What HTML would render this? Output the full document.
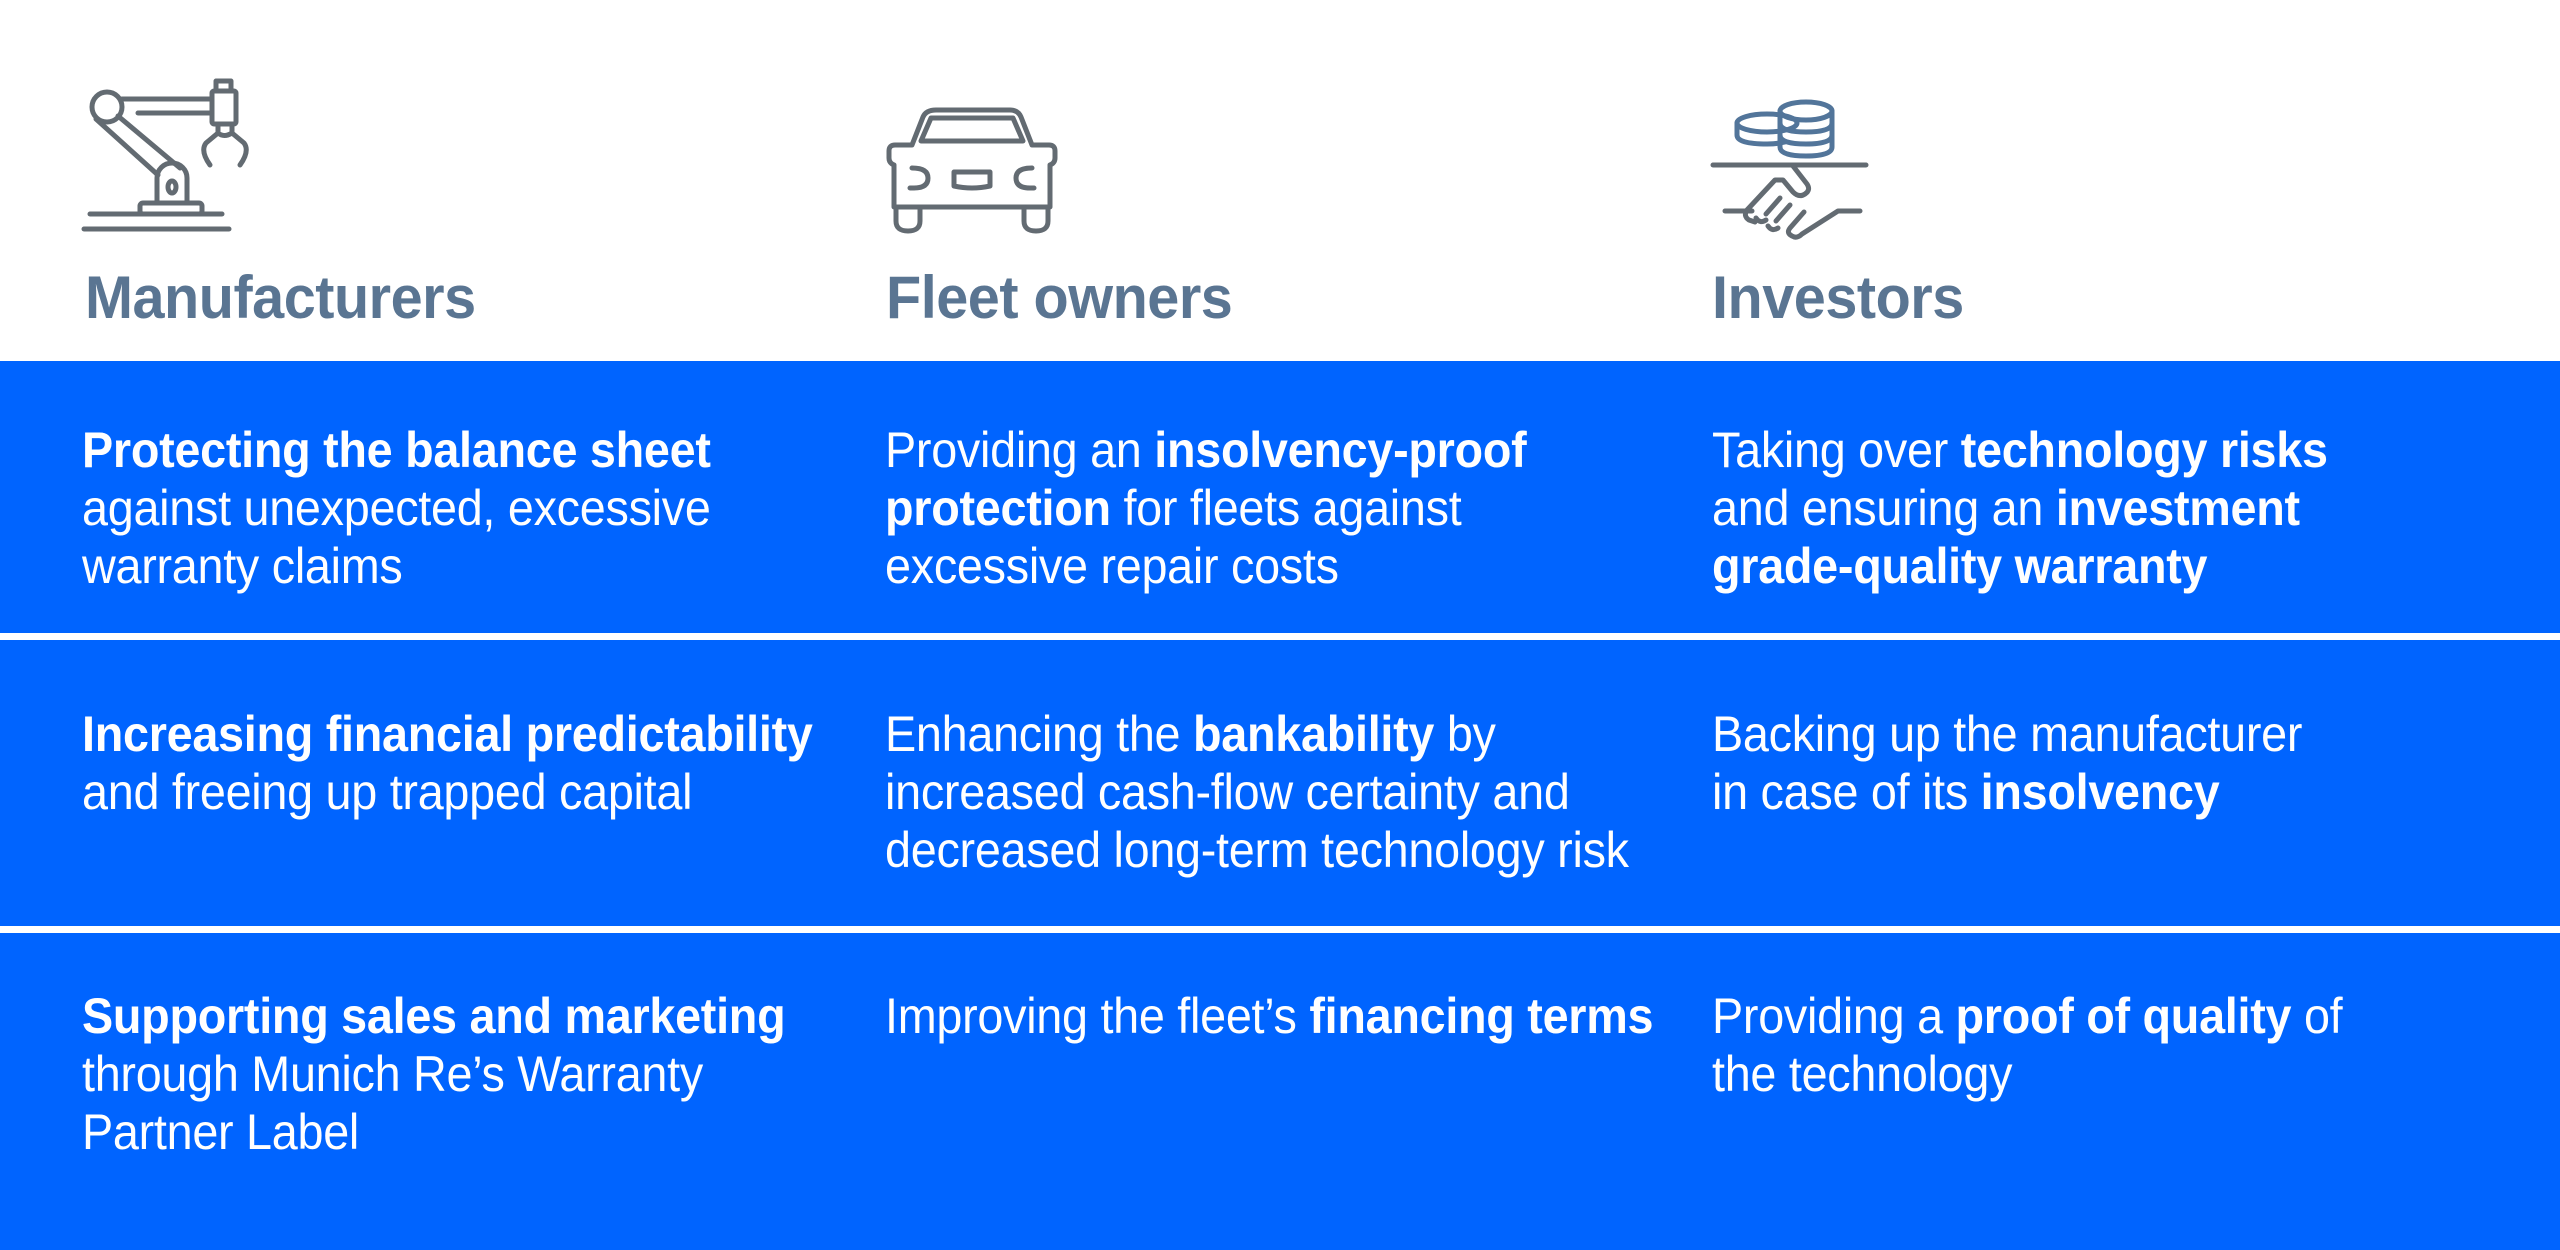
<!DOCTYPE html>
<html><head><meta charset="utf-8"><style>
html,body{margin:0;padding:0}
body{width:2560px;height:1250px;position:relative;overflow:hidden;background:#fff;font-family:"Liberation Sans",sans-serif}
.band{position:absolute;left:0;width:2560px;background:#0064ff}
.h{position:absolute;top:268px;font-size:60px;line-height:60px;color:#5a7592;font-weight:bold;letter-spacing:-0.5px;transform:scaleX(0.96);transform-origin:0 0;white-space:nowrap}
.t{position:absolute;font-size:50px;line-height:58px;color:#fff;letter-spacing:-0.3px;white-space:nowrap;transform:scaleX(0.935);transform-origin:0 0}
.t b{font-weight:bold}
svg{position:absolute;left:0;top:0}
</style></head><body>
<div class="band" style="top:361px;height:272px"></div>
<div class="band" style="top:640px;height:286px"></div>
<div class="band" style="top:933px;height:317px"></div>

<svg width="2560" height="260" fill="none" stroke-linecap="round" stroke-linejoin="round">
<g stroke="#636b72" stroke-width="5">
 <line x1="90" y1="214" x2="222" y2="214"/>
 <line x1="84" y1="229" x2="229" y2="229"/>
 <rect x="140" y="203" width="62" height="11" rx="3"/>
 <path d="M157 203 V178 a15 15 0 0 1 30 0 V203"/>
 <ellipse cx="172" cy="187" rx="4" ry="6"/>
 <circle cx="107" cy="107" r="15"/>
 <line x1="96" y1="119" x2="158" y2="175"/>
 <line x1="118" y1="116" x2="180" y2="168"/>
 <line x1="122" y1="99" x2="212" y2="99"/>
 <line x1="138" y1="113" x2="212" y2="113"/>
 <rect x="212" y="91" width="24" height="33" rx="2"/>
 <path d="M216 91 V81 H231 V91"/>
 <path d="M218 126 v7 l-12 10 q-6 8 4 22"/>
 <path d="M232 126 v7 l12 10 q6 8 -4 22"/>
 <path d="M218 133 q6 5 14 0"/>
</g>
<g stroke="#636b72" stroke-width="5">
 <path d="M936 110 H1010 Q1018 110 1021 117 L1032 145 H1049 Q1055 145 1055 151 V158 Q1055 163 1050 165 V207 H894 V165 Q889 163 889 158 V151 Q889 145 895 145 H912 L923 117 Q926 110 936 110 Z"/>
 <path d="M921 141 L931 118 H1013 L1023 141 Z"/>
 <path d="M896 207 v14 q0 10 12 10 q12 0 12 -10 v-14"/>
 <path d="M1024 207 v14 q0 10 12 10 q12 0 12 -10 v-14"/>
 <line x1="920" y1="207" x2="1024" y2="207"/>
 <path d="M912 168 q16 0 16 10 q0 10 -14 10 h-4"/>
 <path d="M1032 168 q-16 0 -16 10 q0 10 14 10 h4"/>
 <path d="M954 172 h36 v14 q-18 4 -36 0 z"/>
</g>
<g stroke="#52759a" stroke-width="5">
 <ellipse cx="1767" cy="123" rx="30" ry="9"/>
 <path d="M1737 123 v12 q0 9 30 9 q10 0 18 -2"/>
 <ellipse cx="1806" cy="111" rx="26" ry="9"/>
 <path d="M1780 111 v36 q0 9 26 9 q26 0 26 -9 v-36"/>
 <path d="M1780 123 q0 9 26 9 q26 0 26 -9"/>
 <path d="M1780 135 q0 9 26 9 q26 0 26 -9"/>
</g>
<g stroke="#636b72" stroke-width="5">
 <line x1="1713" y1="165" x2="1866" y2="165"/>
 <path d="M1793 166 l14 18 q4 6 -2 10 q-6 4 -12 -2 l-10 -12 h-8 l-28 30 q-4 6 2 10 l6 2"/>
 <line x1="1725" y1="211" x2="1752" y2="211"/>
 <path d="M1780 198 l-14 16"/>
 <path d="M1790 205 l-14 16"/>
 <path d="M1804 212 l-14 16 q-4 5 2 8 q5 3 10 -2 l36 -23 h22"/>
 <path d="M1756 218 q4 6 10 2 M1768 226 q4 6 10 2"/>
</g>
</svg>

<div class="h" style="left:85px">Manufacturers</div>
<div class="h" style="left:886px">Fleet owners</div>
<div class="h" style="left:1712px">Investors</div>

<div class="t" style="left:82px;top:421px"><b>Protecting the balance sheet</b><br>against unexpected, excessive<br>warranty claims</div>
<div class="t" style="left:885px;top:421px">Providing an <b>insolvency-proof</b><br><b>protection</b> for fleets against<br>excessive repair costs</div>
<div class="t" style="left:1712px;top:421px">Taking over <b>technology risks</b><br>and ensuring an <b>investment</b><br><b>grade-quality warranty</b></div>

<div class="t" style="left:82px;top:705px"><b>Increasing financial predictability</b><br>and freeing up trapped capital</div>
<div class="t" style="left:885px;top:705px">Enhancing the <b>bankability</b> by<br>increased cash-flow certainty and<br>decreased long-term technology risk</div>
<div class="t" style="left:1712px;top:705px">Backing up the manufacturer<br>in case of its <b>insolvency</b></div>

<div class="t" style="left:82px;top:987px"><b>Supporting sales and marketing</b><br>through Munich Re’s Warranty<br>Partner Label</div>
<div class="t" style="left:885px;top:987px">Improving the fleet’s <b>financing terms</b></div>
<div class="t" style="left:1712px;top:987px">Providing a <b>proof of quality</b> of<br>the technology</div>
</body></html>
